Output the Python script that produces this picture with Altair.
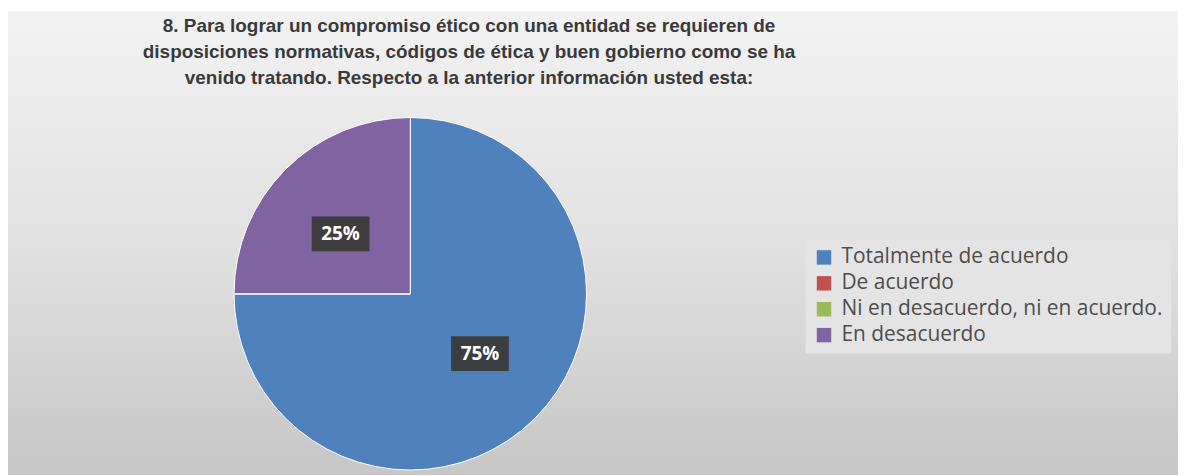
import altair as alt
import pandas as pd

# ---- data ----
categories = [
    "Totalmente de acuerdo",
    "De acuerdo",
    "Ni en desacuerdo, ni en acuerdo.",
    "En desacuerdo",
]
percentages = [75, 0, 0, 25]
colors = ["#4F81BD", "#C0504D", "#9BBB59", "#8064A2"]
title_lines = [
    "8. Para lograr un compromiso ético con una entidad se requieren de",
    "disposiciones normativas, códigos de ética y buen gobierno como se ha",
    "venido tratando. Respecto a la anterior información usted esta:",
]

df = pd.DataFrame({"categoria": categories, "valor": percentages, "orden": list(range(len(categories)))})
title_df = pd.DataFrame({"titulo": ["\n".join(title_lines)]})
bg_df = pd.DataFrame({"k": [0]})

# ---- layout ----
W, H = 1175, 466
CX, CY = 404, 284
R = 177
LRX, LRY = 99, 85

gradient = alt.LinearGradient(
    gradient="linear",
    stops=[
        alt.GradientStop(offset=0, color="#f2f2f2"),
        alt.GradientStop(offset=0.5, color="#e1e1e1"),
        alt.GradientStop(offset=1, color="#c6c6c6"),
    ],
    x1=0, x2=0, y1=0, y2=1,
)

background = alt.Chart(bg_df).mark_rect(color=gradient).encode(
    x=alt.value(0), x2=alt.value(W), y=alt.value(0), y2=alt.value(H)
)

pie = alt.Chart(df).mark_arc(radius=R, stroke="white", strokeWidth=1).encode(
    theta=alt.Theta("valor:Q", stack=True),
    color=alt.Color(
        "categoria:N",
        scale=alt.Scale(domain=categories, range=colors),
        sort=categories,
        legend=alt.Legend(
            title=None,
            orient="none",
            legendX=801,
            legendY=229,
            symbolType="square",
            symbolSize=210,
            symbolStrokeWidth=0,
            labelFont="Open Sans",
            labelFontSize=21,
            labelColor="#4d4d4d",
            labelOffset=7,
            rowPadding=4,
            padding=8,
            fillColor="#e4e4e4",
            labelLimit=0,
        ),
    ),
    order=alt.Order("orden:Q"),
    x=alt.value(CX),
    y=alt.value(CY),
)

label_base = (
    alt.Chart(df)
    .transform_joinaggregate(total="sum(valor)")
    .transform_window(cum="sum(valor)", sort=[alt.SortField("orden")], frame=[None, 0])
    .transform_filter("datum.valor > 0")
    .transform_calculate(
        mid="(datum.cum - datum.valor / 2) / datum.total * 2 * PI",
        px=f"{LRX} * sin(datum.mid)",
        py=f"-{LRY} * cos(datum.mid)",
        etiqueta="datum.valor + '%'",
    )
    .encode(
        x=alt.X("px:Q", scale=alt.Scale(domain=[-CX, W - CX], range=[0, W], nice=False, zero=False), axis=None),
        y=alt.Y("py:Q", scale=alt.Scale(domain=[-CY, H - CY], range=[0, H], nice=False, zero=False), axis=None),
    )
)

boxes = label_base.mark_point(
    shape="M-1,-0.6H1V0.6H-1Z", size=3364, filled=True, color="#3a3a3a", opacity=0.95
)
labels = label_base.mark_text(
    color="white", font="Open Sans", fontWeight="bold", fontSize=19, align="center", baseline="middle"
).encode(text="etiqueta:N")

title = alt.Chart(title_df).mark_text(
    font="Liberation Sans",
    fontSize=19,
    fontWeight="bold",
    color="#3a3a3a",
    align="center",
    baseline="top",
    lineBreak="\n",
    lineHeight=26,
).encode(x=alt.value(463), y=alt.value(6), text="titulo:N")

chart = (
    alt.layer(background, pie, boxes, labels, title)
    .properties(
        width=W,
        height=H,
        autosize="none",
        padding={"left": 0, "top": 2, "right": 0, "bottom": 0},
        background="white",
    )
    .configure_view(stroke=None)
)

chart.save("out.html", embed_options={"renderer": "svg", "actions": False})
